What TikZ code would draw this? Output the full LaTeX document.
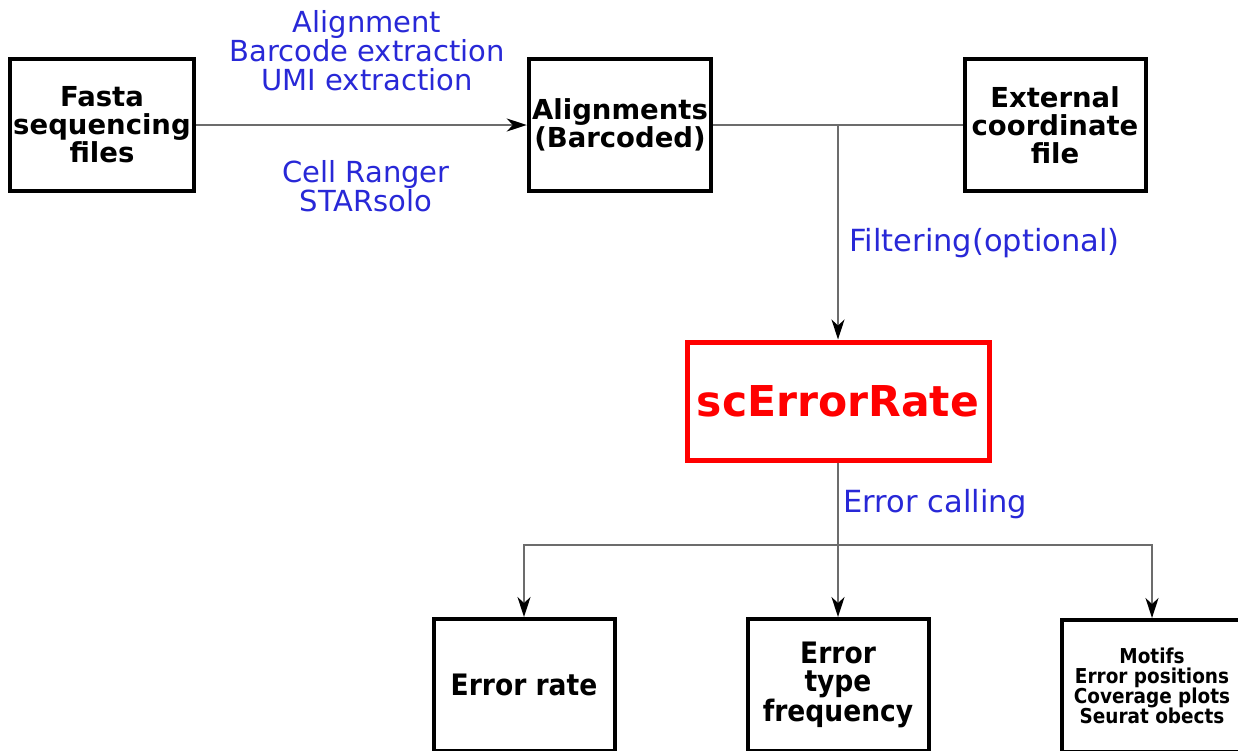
\documentclass[tikz,border=0pt]{standalone}
\usepackage{fontspec}
\setmainfont{DejaVu Sans}
\newfontfamily\condfont{DejaVu Sans Condensed}
\usetikzlibrary{arrows.meta}
\definecolor{toolblue}{RGB}{40,40,215}
\tikzset{
  filebox/.style={draw=black, line width=4pt, minimum width=181pt, minimum height=132pt,
    align=center, font=\fontsize{27.5}{28}\selectfont\bfseries},
  resbox/.style={filebox, font=\condfont\fontsize{29.5}{28.5}\selectfont\bfseries},
  tool/.style={text=toolblue, align=center, font=\fontsize{29}{29}\selectfont},
  link/.style={draw=gray!85!black, line width=1.8pt},
  flow/.style={link, -{Stealth[length=20pt,width=13pt,inset=6pt,black]}}
}
\begin{document}
\begin{tikzpicture}[x=1pt,y=-1pt]
    \clip (0,0) rectangle (1238,750);
    % input and alignment
    \node[filebox] (fasta) at (102,125) {Fasta\\sequencing\\files};
    \node[filebox] (align) at (620,125) {Alignments\\(Barcoded)};
    \node[filebox] (coord) at (1055,125) {External\\coordinate\\file};
    \node[tool] (steps) at (367,51) {Alignment\\Barcode extraction\\UMI extraction};
    \node[tool] (tools) at (366,186) {Cell Ranger\\STARsolo};
    \node[tool, anchor=west, font=\fontsize{30.5}{30}\selectfont] (filt) at (846,243) {Filtering(optional)};
    % the tool
    \node[draw=red, line width=5pt, minimum width=302pt, minimum height=118pt, text=red,
        font=\fontsize{42.5}{46}\selectfont\bfseries] (scer) at (838,401) {scErrorRate};
    \node[tool, anchor=west, font=\fontsize{30.5}{30}\selectfont] (call) at (840,504) {Error calling};
    % outputs
    \node[resbox] (rate) at (524,685) {Error rate};
    \node[resbox] (types) at (838,685) {Error\\type\\frequency};
    \node[resbox, font=\condfont\fontsize{20.5}{20}\selectfont\bfseries] (extra) at (1152,686)
        {Motifs\\Error positions\\Coverage plots\\Seurat obects};
    \coordinate (split) at (scer |- align);
    \coordinate (fork) at (838,545);
    \draw[flow] (fasta) -- (align);
    \draw[link] (align) -- (coord);
    \draw[flow] (split) -- (scer);
    \draw[link] (scer) -- (fork);
    \draw[flow] (fork) -| (rate);
    \draw[flow] (fork) -- (types);
    \draw[flow] (fork) -| (extra);
\end{tikzpicture}
\end{document}
